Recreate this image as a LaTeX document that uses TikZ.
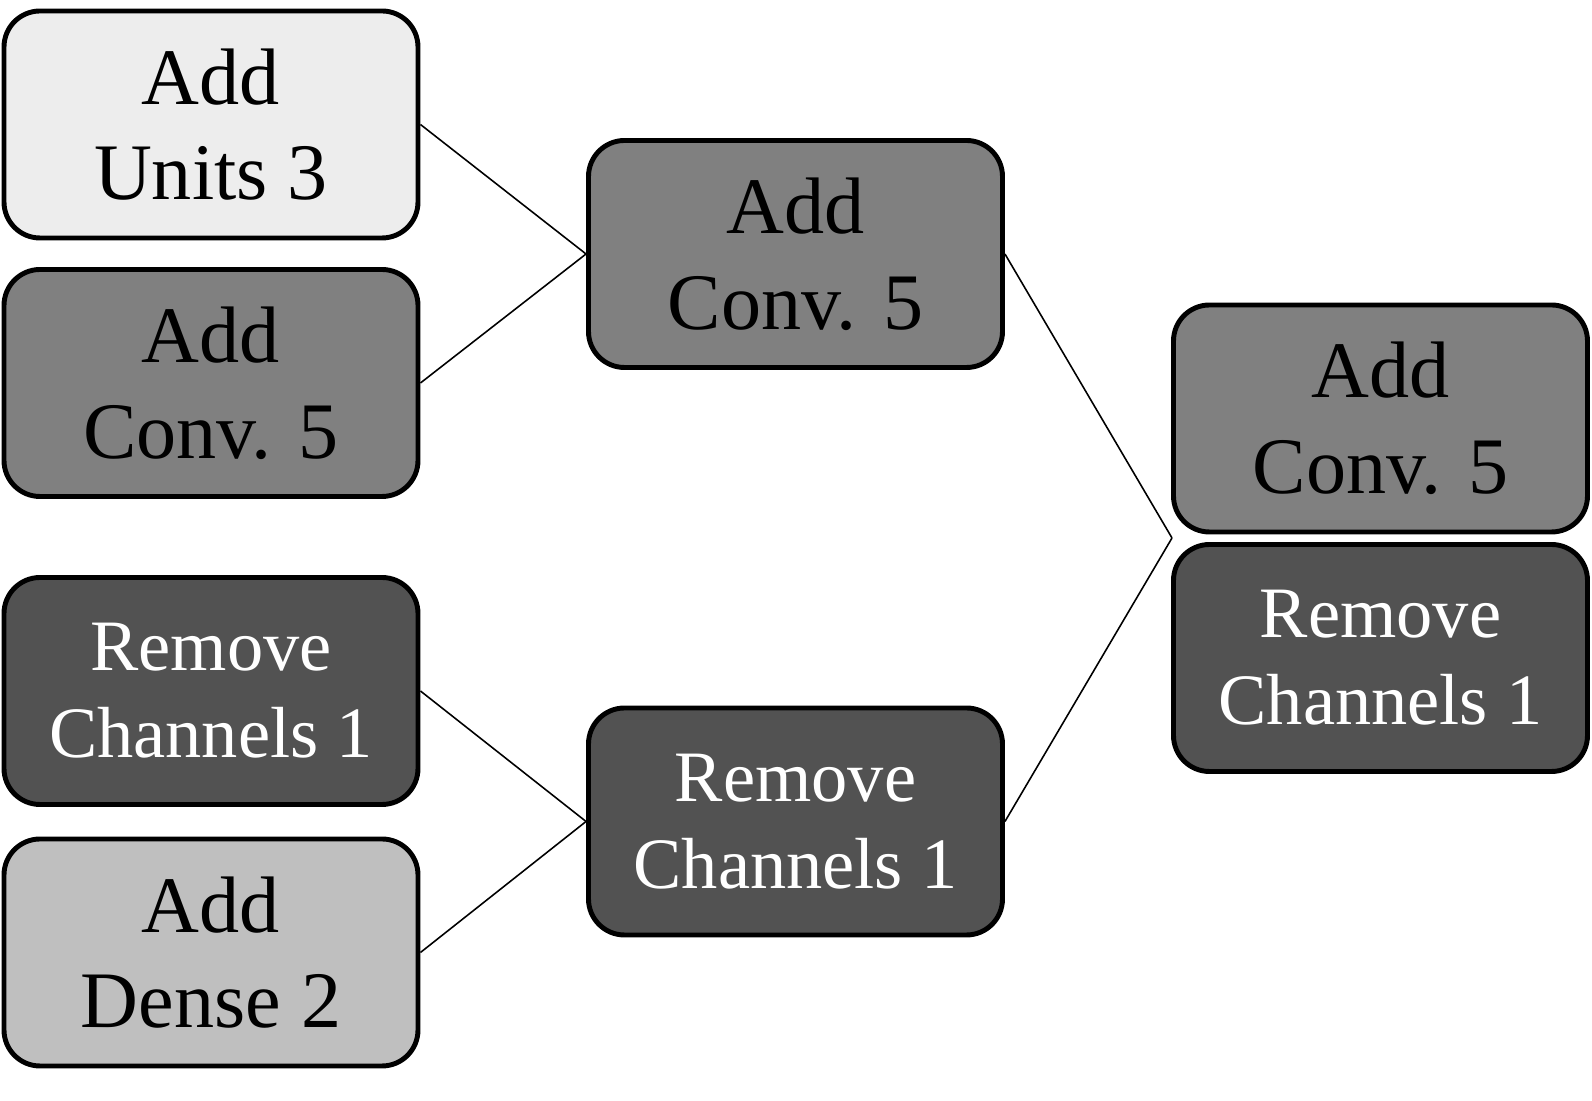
\documentclass[tikz,border=0pt]{standalone}
\usepackage{fontspec}
\setmainfont{Liberation Serif}
\usetikzlibrary{positioning}

\begin{document}
\begin{tikzpicture}[
    op/.style={draw, line width=1.4pt, rounded corners=0.36cm, minimum width=4.14cm,
        minimum height=2.27cm, inner sep=0pt, align=center,
        font=\fontsize{22.8}{27.2}\selectfont},
    addop/.style={op},
    rmop/.style={op, text=white, fill=black!68, font=\fontsize{20.6}{24.8}\selectfont},
    link/.style={line width=0.45pt}
]
\useasboundingbox (0,0) rectangle (15.92,-11.01);

\node[addop, fill=black!7] (units) at (2.11,-1.245) {Add\\Units 3};
\node[addop, fill=black!50] (conv) at (2.11,-3.83) {Add\\Conv. 5};
\node[rmop] (chan) at (2.11,-6.91) {Remove\\Channels 1};
\node[addop, fill=black!25] (dense) at (2.11,-9.525) {Add\\Dense 2};

\node[addop, fill=black!50] (conv2) at (7.955,-2.54) {Add\\Conv. 5};
\node[rmop] (chan2) at (7.955,-8.215) {Remove\\Channels 1};

\node[addop, fill=black!50] (conv3) at (13.805,-4.185) {Add\\Conv. 5};
\node[rmop] (chan3) at (13.805,-6.58) {Remove\\Channels 1};
\coordinate (join) at (11.72,-5.38);

\draw[link] (units.east) -- (conv2.west);
\draw[link] (conv.east) -- (conv2.west);
\draw[link] (chan.east) -- (chan2.west);
\draw[link] (dense.east) -- (chan2.west);
\draw[link] (conv2.east) -- (join);
\draw[link] (chan2.east) -- (join);
\end{tikzpicture}
\end{document}
